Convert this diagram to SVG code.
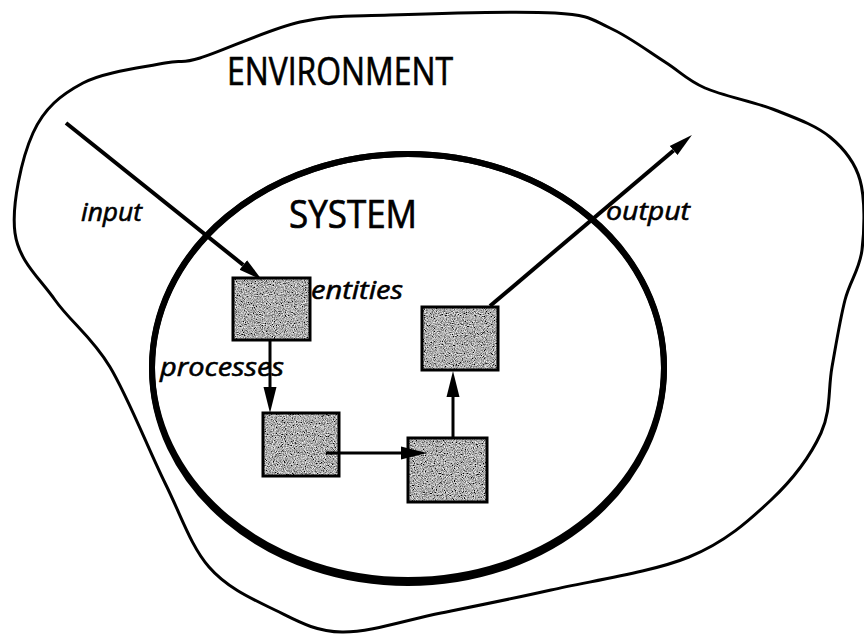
<svg xmlns="http://www.w3.org/2000/svg" width="864" height="635" viewBox="0 0 864 635">
<style>
.env{fill:none;stroke:#000;stroke-width:3;stroke-linejoin:round}
.sys{fill:none;stroke:#000;stroke-width:6}
.boxfill{fill:#888}
.frame{fill:none;stroke:#000;stroke-width:3}
.big{stroke:#000;stroke-width:4;fill:none}
.small{stroke:#000;stroke-width:3;fill:none}
.title{font-family:"Open Sans","Liberation Sans",sans-serif;font-size:39px;fill:#000;stroke:#000;stroke-width:0.7}
.lab{font-family:"Open Sans","Liberation Sans",sans-serif;font-size:26px;font-style:italic;fill:#000;stroke:#000;stroke-width:0.6}
</style>
<defs>
<filter id="grain" x="0" y="0" width="1" height="1">
<feTurbulence type="fractalNoise" baseFrequency="0.9" numOctaves="2" seed="7" result="t"/>
<feColorMatrix in="t" type="matrix" values="1.7 0 0 0 -0.43 1.7 0 0 0 -0.43 1.7 0 0 0 -0.43 0 0 0 0 1" result="g"/>
<feComposite in="g" in2="SourceGraphic" operator="in"/>
</filter>
<marker id="headBig" markerUnits="userSpaceOnUse" markerWidth="26" markerHeight="16" refX="0" refY="8" orient="auto" viewBox="0 0 26 16">
<path d="M0,2 L24,8 L0,14 z" fill="#000"/>
</marker>
<marker id="headSmall" markerUnits="userSpaceOnUse" markerWidth="28" markerHeight="16" refX="0" refY="8" orient="auto" viewBox="0 0 28 16">
<path d="M0,1.5 L26,8 L0,14.5 z" fill="#000"/>
</marker>
</defs>

<g id="environment">
<path class="env" d="M200,58 C222.5,51.2 268.3,29.2 300,22 C331.7,14.8 347.5,16.5 390,15 C432.5,13.5 518.3,10.8 555,13 C591.7,15.2 591.7,19.8 610,28 C628.3,36.2 649.2,52 665,62 C680.8,72 686.7,80 705,88 C723.3,96 754.2,101.8 775,110 C795.8,118.2 815.8,125.3 830,137 C844.2,148.7 854.7,161.2 860,180 C865.3,198.8 864.5,230 862,250 C859.5,270 850,280.5 845,300 C840,319.5 836,344.8 832,367 C828,389.2 831.2,410.8 821,433 C810.8,455.2 793,479.3 771,500 C749,520.7 725.7,542 689,557 C652.3,572 592.3,580.7 551,590 C509.7,599.3 475.8,606 441,613 C406.2,620 369.7,632.5 342,632 C314.3,631.5 297.2,620.8 275,610 C252.8,599.2 227.3,588.2 209,567 C190.7,545.8 181.5,516.3 165,483 C148.5,449.7 128.3,397.5 110,367 C91.7,336.5 70.8,322.3 55,300 C39.2,277.7 18.7,260.8 15,233 C11.3,205.2 21.7,158 33,133 C44.3,108 61,94.7 83,83 C105,71.3 145.5,67.2 165,63 C184.5,58.8 177.5,64.8 200,58 Z"/>
<text class="title" x="227" y="85" textLength="226" lengthAdjust="spacingAndGlyphs">ENVIRONMENT</text>
</g>

<g id="system">
<ellipse class="sys" cx="408" cy="367" rx="256" ry="213"/>
<ellipse class="sys" cx="408" cy="368.5" rx="256" ry="214.5"/>
<text class="title" x="289" y="228" textLength="128" lengthAdjust="spacingAndGlyphs">SYSTEM</text>
</g>

<g id="entity1">
<rect class="boxfill" x="233" y="278" width="77" height="62" filter="url(#grain)"/>
<rect class="frame" x="233" y="278" width="77" height="62"/>
</g>
<g id="entity2">
<rect class="boxfill" x="263" y="413" width="76" height="63" filter="url(#grain)"/>
<rect class="frame" x="263" y="413" width="76" height="63"/>
</g>
<g id="entity3">
<rect class="boxfill" x="408" y="438" width="79" height="64" filter="url(#grain)"/>
<rect class="frame" x="408" y="438" width="79" height="64"/>
</g>
<g id="entity4">
<rect class="boxfill" x="422" y="307" width="76" height="63" filter="url(#grain)"/>
<rect class="frame" x="422" y="307" width="76" height="63"/>
</g>

<g id="connectors">
<line class="big" x1="66" y1="123" x2="243.3" y2="265" marker-end="url(#headBig)"/>
<line class="big" x1="490" y1="306" x2="673.6" y2="150.5" marker-end="url(#headBig)"/>
<line class="small" x1="270" y1="340" x2="270" y2="387" marker-end="url(#headSmall)"/>
<line class="small" x1="326" y1="453" x2="401" y2="453" marker-end="url(#headSmall)"/>
<line class="small" x1="453" y1="438" x2="453" y2="397" marker-end="url(#headSmall)"/>
</g>

<g id="labels">
<text class="lab" x="81" y="221" textLength="61" lengthAdjust="spacingAndGlyphs">input</text>
<text class="lab" x="606" y="220" textLength="84" lengthAdjust="spacingAndGlyphs">output</text>
<text class="lab" x="311" y="299" textLength="92" lengthAdjust="spacingAndGlyphs">entities</text>
<text class="lab" x="160" y="376" textLength="124" lengthAdjust="spacingAndGlyphs">processes</text>
</g>
</svg>
